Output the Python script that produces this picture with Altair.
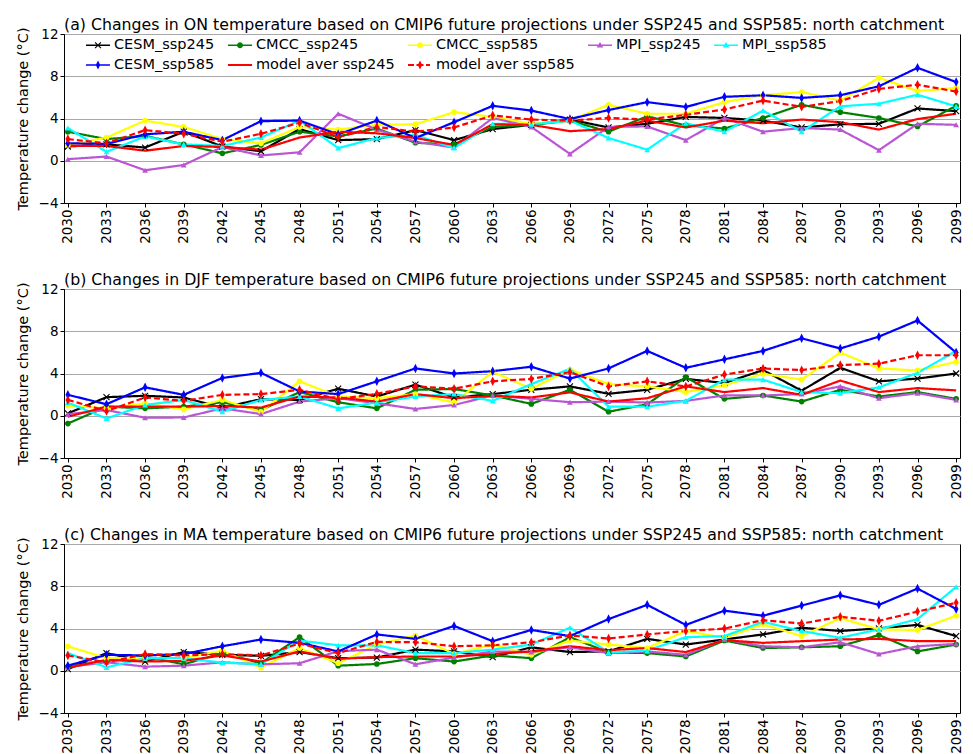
import math
import altair as alt
import pandas as pd

YEARS = [2030, 2033, 2036, 2039, 2042, 2045, 2048, 2051, 2054, 2057, 2060, 2063,
         2066, 2069, 2072, 2075, 2078, 2081, 2084, 2087, 2090, 2093, 2096, 2099]

SERIES = ["CESM_ssp245", "CMCC_ssp245", "CMCC_ssp585", "MPI_ssp245", "MPI_ssp585",
          "CESM_ssp585", "model aver ssp245", "model aver ssp585"]

TITLES = [
    "(a) Changes in ON temperature based on CMIP6 future projections under SSP245 and SSP585: north catchment",
    "(b) Changes in DJF temperature based on CMIP6 future projections under SSP245 and SSP585: north catchment",
    "(c) Changes in MA temperature based on CMIP6 future projections under SSP245 and SSP585: north catchment",
]

Y_TICKS = [-4, 0, 4, 8, 12]

# (a) ON
ON = {
    "CESM_ssp245": [1.35, 1.55, 1.25, 2.75, 1.35, 0.9, 3.0, 1.95, 2.05, 2.9, 1.95, 3.0,
                    3.4, 3.9, 3.15, 3.5, 4.15, 4.05, 3.8, 3.15, 3.45, 3.5, 4.95, 4.7],
    "CMCC_ssp245": [2.75, 2.05, 2.35, 1.55, 0.7, 1.5, 2.75, 2.3, 3.05, 1.7, 1.55, 3.2,
                    3.4, 3.8, 2.75, 4.2, 3.35, 3.05, 4.05, 5.3, 4.6, 4.05, 3.25, 5.2],
    "CMCC_ssp585": [1.5, 2.2, 3.8, 3.2, 2.05, 1.65, 3.2, 2.95, 3.4, 3.45, 4.6, 4.15,
                    3.5, 3.8, 5.3, 4.45, 4.45, 5.55, 6.2, 6.5, 5.7, 7.85, 6.6, 6.9],
    "MPI_ssp245": [0.15, 0.4, -0.9, -0.4, 1.3, 0.5, 0.8, 4.45, 2.95, 1.8, 1.25, 4.05,
                   3.2, 0.65, 3.2, 3.25, 1.95, 4.05, 2.75, 3.1, 2.95, 1.0, 3.5, 3.4],
    "MPI_ssp585": [3.1, 0.85, 2.3, 1.55, 1.4, 2.2, 3.8, 1.2, 2.15, 2.45, 1.2, 3.5,
                   3.45, 3.8, 2.15, 1.05, 3.55, 2.75, 4.75, 2.75, 5.15, 5.4, 6.25, 5.15],
    "CESM_ssp585": [1.65, 1.6, 2.5, 2.75, 1.95, 3.75, 3.8, 2.5, 3.8, 2.15, 3.65, 5.2,
                    4.75, 3.95, 4.8, 5.55, 5.1, 6.05, 6.2, 5.95, 6.2, 7.05, 8.8, 7.45],
    "model aver ssp245": [1.4, 1.4, 0.95, 1.4, 1.3, 1.05, 2.2, 2.75, 2.6, 2.15, 1.5, 3.45,
                          3.4, 2.8, 3.0, 3.8, 3.15, 3.8, 3.55, 3.9, 3.65, 2.95, 3.95, 4.45],
    "model aver ssp585": [2.05, 1.65, 2.9, 2.55, 1.8, 2.55, 3.6, 2.25, 3.2, 2.75, 3.15, 4.3,
                          3.9, 3.8, 4.05, 3.9, 4.35, 4.85, 5.7, 5.1, 5.65, 6.8, 7.2, 6.55],
}

# (b) DJF
DJF = {
    "CESM_ssp245": [0.22, 1.76, 1.89, 1.73, 0.77, 1.57, 1.5, 2.56, 1.82, 2.94, 1.73, 2.05,
                    2.46, 2.78, 2.08, 2.46, 3.49, 3.1, 4.32, 2.37, 4.54, 3.26, 3.52, 4.0],
    "CMCC_ssp245": [-0.74, 0.86, 0.7, 0.86, 1.28, 0.54, 2.24, 1.28, 0.7, 2.46, 2.53, 1.92,
                    1.12, 2.46, 0.38, 1.09, 3.65, 1.6, 1.92, 1.34, 2.46, 1.82, 2.24, 1.6],
    "CMCC_ssp585": [0.96, 0.7, 1.18, 0.6, 1.5, 0.38, 3.26, 1.82, 1.66, 2.05, 1.25, 4.16,
                    2.56, 4.38, 3.0, 2.78, 2.24, 2.88, 3.97, 3.42, 5.98, 4.48, 4.29, 5.09],
    "MPI_ssp245": [0.15, 0.54, -0.19, -0.16, 0.7, 0.16, 1.34, 1.66, 1.18, 0.64, 1.02, 1.92,
                   1.6, 1.28, 1.34, 1.25, 1.41, 1.92, 1.92, 2.05, 2.78, 1.66, 2.14, 1.5],
    "MPI_ssp585": [1.25, -0.26, 1.02, 1.5, 0.38, 1.5, 1.82, 0.7, 1.25, 1.82, 2.05, 1.41,
                   3.0, 4.45, 0.86, 0.86, 1.41, 3.42, 3.42, 2.24, 2.14, 2.69, 4.06, 6.14],
    "CESM_ssp585": [1.98, 1.09, 2.69, 1.98, 3.58, 4.06, 2.3, 2.05, 3.26, 4.48, 4.0, 4.22,
                    4.64, 3.52, 4.48, 6.14, 4.54, 5.34, 6.14, 7.33, 6.37, 7.49, 9.02, 5.98],
    "model aver ssp245": [-0.1, 0.86, 0.86, 0.86, 0.93, 0.77, 1.82, 1.73, 1.34, 2.05, 1.66, 1.89,
                          1.73, 2.21, 1.34, 1.66, 2.78, 2.24, 2.62, 1.98, 3.33, 2.24, 2.62, 2.4],
    "model aver ssp585": [1.5, 0.45, 1.73, 1.41, 1.98, 2.05, 2.46, 1.57, 2.08, 2.78, 2.56, 3.26,
                          3.49, 4.13, 2.78, 3.26, 2.78, 3.9, 4.48, 4.32, 4.8, 4.93, 5.73, 5.73],
}

# (c) MA
MA = {
    "CESM_ssp245": [0.16, 1.67, 0.87, 1.77, 1.51, 1.41, 1.77, 1.19, 1.25, 2.0, 1.83, 1.29,
                    2.22, 1.77, 1.83, 3.02, 2.48, 2.96, 3.44, 4.08, 3.76, 4.02, 4.34, 3.28],
    "CMCC_ssp245": [0.39, 0.93, 1.35, 0.61, 1.67, 0.71, 3.18, 0.48, 0.64, 1.19, 0.87, 1.45,
                    1.19, 3.18, 1.74, 1.67, 1.35, 2.86, 2.15, 2.22, 2.32, 3.38, 1.83, 2.48],
    "CMCC_ssp585": [2.32, 1.19, 1.19, 1.19, 1.9, 0.29, 2.15, 0.71, 2.48, 3.34, 1.58, 2.48,
                    1.51, 2.86, 2.48, 2.15, 3.76, 3.12, 4.4, 3.28, 4.98, 3.92, 3.86, 5.21],
    "MPI_ssp245": [0.35, 0.8, 0.39, 0.48, 0.8, 0.61, 0.71, 1.85, 2.0, 0.61, 1.25, 1.83,
                   1.77, 2.22, 1.67, 1.83, 1.51, 2.96, 2.32, 2.22, 2.7, 1.58, 2.32, 2.54],
    "MPI_ssp585": [1.67, 0.32, 1.19, 1.19, 0.77, 0.61, 2.86, 2.41, 2.41, 1.67, 1.67, 2.0,
                   2.48, 4.08, 1.74, 1.9, 3.18, 3.28, 4.63, 3.76, 3.12, 3.92, 4.89, 7.94],
    "CESM_ssp585": [0.48, 1.51, 1.45, 1.58, 2.32, 2.96, 2.64, 1.83, 3.44, 3.02, 4.24, 2.8,
                    3.86, 3.28, 4.89, 6.24, 4.34, 5.69, 5.21, 6.17, 7.14, 6.24, 7.78, 5.85],
    "model aver ssp245": [0.29, 1.03, 0.87, 0.93, 1.45, 0.87, 1.83, 1.13, 1.29, 1.35, 1.35, 1.58,
                          1.83, 2.32, 1.95, 2.15, 1.77, 2.89, 2.64, 2.8, 2.96, 3.02, 2.8, 2.8],
    "model aver ssp585": [1.45, 0.8, 1.58, 1.45, 1.58, 1.45, 2.57, 1.67, 2.73, 2.7, 2.32, 2.41,
                          2.7, 3.34, 3.05, 3.44, 3.76, 3.99, 4.79, 4.47, 5.11, 4.73, 5.6, 6.43],
}

PANELS = [ON, DJF, MA]

# ---------------- styling ----------------
FONT = "DejaVu Sans"
COLORS = ["#000000", "#008000", "#ffff00", "#ba55d3", "#00ffff",
          "#0000ff", "#ff0000", "#ff0000"]
DASHES = [[1, 0]] * 7 + [[6, 3]]
WIDTHS = [1.6] * 6 + [2.2, 2.2]
MODELS = SERIES[:6]
AVERS = SERIES[6:]


def rect(x0, x1, t):
    return f"M{x0},{-t}H{x1}V{t}H{x0}Z"


def circle(r):
    return f"M{-r},0A{r},{r} 0 1,1 {r},0A{r},{r} 0 1,1 {-r},0Z"


def tri(w, top, bot):
    return f"M0,{-top}L{w},{bot}L{-w},{bot}Z"


def diamond(w, h):
    return f"M0,{-h}L{w},0L0,{h}L{-w},0Z"


def xmark(a, t):
    pts = [(-t, -a), (t, -a), (t, -t), (a, -t), (a, t), (t, t), (t, a), (-t, a),
           (-t, t), (-a, t), (-a, -t), (-t, -t)]
    c = math.sqrt(0.5)
    rp = [((x - y) * c, (x + y) * c) for x, y in pts]
    return "M" + "L".join(f"{x:.3f},{y:.3f}" for x, y in rp) + "Z"


LINE = rect(-1.2, 1.2, 0.075)
LEGEND_PATHS = [
    LINE + xmark(0.42, 0.055),
    LINE + circle(0.3),
    LINE + circle(0.3),
    LINE + tri(0.33, 0.33, 0.22),
    LINE + tri(0.33, 0.33, 0.22),
    LINE + diamond(0.22, 0.45),
    rect(-1.2, 1.2, 0.1),
    rect(-1.2, -0.6, 0.1) + rect(-0.35, 0.35, 0.1) + rect(0.6, 1.0, 0.1) + diamond(0.22, 0.45),
]

# plot-mark scales use the same mapping listed in reverse order, so that their
# (hidden) legends are kept apart from the visible colour/shape legend
REV = SERIES[::-1]
stroke_scale = alt.Scale(domain=REV, range=COLORS[::-1])
fill_scale = alt.Scale(domain=REV, range=COLORS[::-1])
dash_scale = alt.Scale(domain=REV, range=DASHES[::-1])
width_scale = alt.Scale(domain=REV, range=WIDTHS[::-1])


def long_df(panel):
    rows = []
    for s in SERIES:
        for yr, v in zip(YEARS, panel[s]):
            rows.append({"year": yr, "value": v, "series": s})
    return pd.DataFrame(rows)


def make_panel(panel, title):
    df = long_df(panel)
    base = alt.Chart(df)
    x = alt.X("year:Q",
              scale=alt.Scale(domain=[2029.7, 2099.3], nice=False, zero=False),
              axis=alt.Axis(values=YEARS, format="d", labelAngle=270, title=None,
                            grid=False, tickSize=4, labelPadding=2,
                            labelOverlap=False, labelFlush=False))
    y = alt.Y("value:Q",
              scale=alt.Scale(domain=[-4, 12], nice=False, zero=False),
              axis=alt.Axis(values=Y_TICKS, title="Temperature change (°C)",
                            grid=True, tickSize=4, labelPadding=2, titlePadding=8))

    def lines(names):
        return base.transform_filter(
            alt.FieldOneOfPredicate(field="series", oneOf=names)
        ).mark_line().encode(
            x=x, y=y,
            stroke=alt.Stroke("series:N", scale=stroke_scale, legend=None),
            strokeDash=alt.StrokeDash("series:N", scale=dash_scale, legend=None),
            strokeWidth=alt.StrokeWidth("series:N", scale=width_scale, legend=None),
        )

    def filled_pts(names, shape, size):
        return base.transform_filter(
            alt.FieldOneOfPredicate(field="series", oneOf=names)
        ).mark_point(shape=shape, filled=True, size=size, opacity=1, strokeWidth=0).encode(
            x=x, y=y,
            fill=alt.Fill("series:N", scale=fill_scale, legend=None),
        )

    xpts = base.transform_filter(
        alt.FieldOneOfPredicate(field="series", oneOf=["CESM_ssp245"])
    ).mark_point(shape="M-1,-1L1,1M-1,1L1,-1", filled=False, size=36,
                 strokeWidth=1.1, opacity=1).encode(
        x=x, y=y,
        stroke=alt.Stroke("series:N", scale=stroke_scale, legend=None),
    )

    leg = alt.Legend(title=None, orient="none", legendX=22, legendY=1, columns=5,
                     direction="horizontal", labelFont=FONT, labelFontSize=14.5,
                     labelColor="black", symbolSize=400, symbolOffset=2,
                     labelOffset=6, columnPadding=13, rowPadding=3, padding=0,
                     symbolStrokeWidth=0, symbolOpacity=1, labelLimit=300)
    # invisible layer that only carries the legend (symbols = line + marker)
    legend_layer = base.mark_point(filled=True, opacity=0).encode(
        color=alt.Color("series:N", scale=alt.Scale(domain=SERIES, range=COLORS), legend=leg),
        shape=alt.Shape("series:N", scale=alt.Scale(domain=SERIES, range=LEGEND_PATHS), legend=leg),
    )

    return alt.layer(
        lines(MODELS),
        lines(AVERS),
        xpts,
        filled_pts(["CMCC_ssp245", "CMCC_ssp585"], "circle", 32),
        filled_pts(["MPI_ssp245", "MPI_ssp585"], "triangle-up", 34),
        filled_pts(["CESM_ssp585", "model aver ssp585"], "M0,-1L0.5,0L0,1L-0.5,0Z", 90),
        legend_layer,
    ).properties(
        width=896, height=169,
        title=alt.TitleParams(title, anchor="start", fontSize=15.75, font=FONT,
                              fontWeight="normal", color="black", offset=-7,
                              frame="group"),
    )


chart = alt.vconcat(
    *[make_panel(p, t) for p, t in zip(PANELS, TITLES)], spacing=27
).properties(
    padding={"left": 6, "top": 8, "right": 0, "bottom": 0}
).configure_view(
    stroke="black", strokeWidth=1
).configure_axis(
    domainColor="black", tickColor="black", labelColor="black", titleColor="black",
    labelFont=FONT, titleFont=FONT, titleFontWeight="normal", labelFontSize=13.5,
    titleFontSize=14.5, gridColor="#a8a8a8", gridWidth=1
)

chart.save("out.html", embed_options={"renderer": "svg", "actions": False})
